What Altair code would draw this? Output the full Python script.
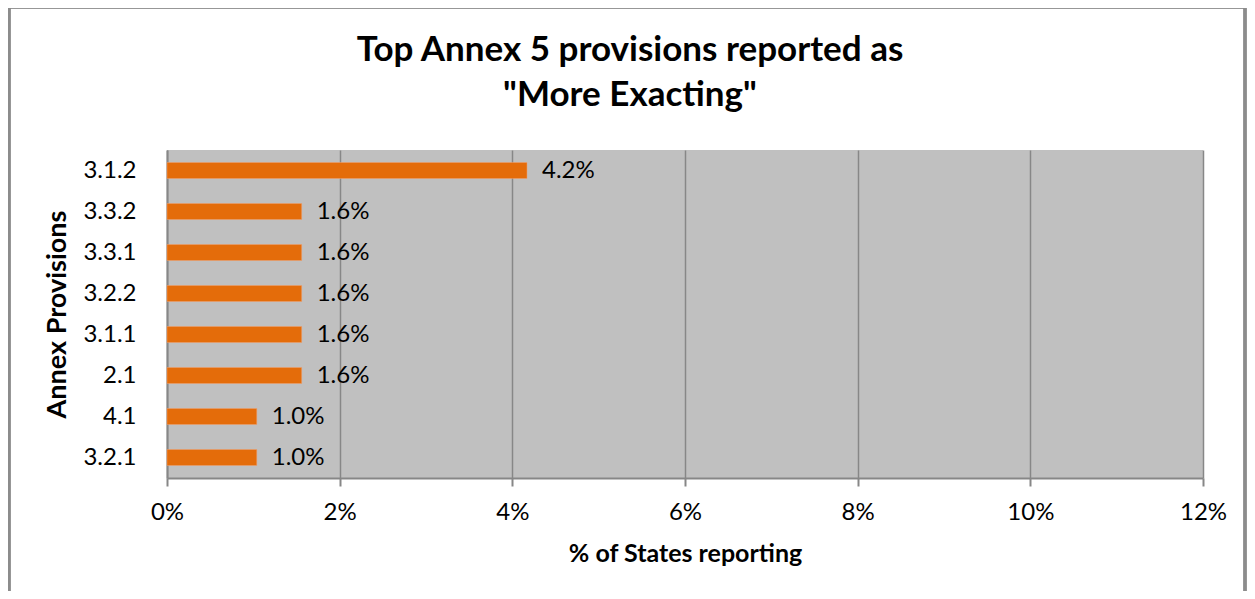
import altair as alt
import pandas as pd

provisions = ["3.1.2", "3.3.2", "3.3.1", "3.2.2", "3.1.1", "2.1", "4.1", "3.2.1"]
percent = [4.17, 1.56, 1.56, 1.56, 1.56, 1.56, 1.04, 1.04]
labels = ["4.2%", "1.6%", "1.6%", "1.6%", "1.6%", "1.6%", "1.0%", "1.0%"]
title_lines = ["Top Annex 5 provisions reported as", "\"More Exacting\""]

df = pd.DataFrame({"prov": provisions, "pct": percent, "lab": labels})
tdf = pd.DataFrame({"line": title_lines, "row": [0, 1]})

FONT = "Lato"
W, H = 1036, 328

y_enc = alt.Y("prov:N", sort=provisions,
              scale=alt.Scale(paddingInner=0.61, paddingOuter=0.305),
              axis=alt.Axis(title="Annex Provisions", titleFont=FONT, titleFontSize=27,
                            titleFontWeight="bold", titleColor="black", titlePadding=11,
                            labelFont=FONT, labelFontSize=24, labelColor="black",
                            labelPadding=31, ticks=False, domainColor="#878787",
                            domainWidth=2, grid=False))

x_enc = alt.X("pct:Q",
              scale=alt.Scale(domain=[0, 12], nice=False, zero=True),
              axis=alt.Axis(title="% of States reporting", titleFont=FONT, titleFontSize=25,
                            titleFontWeight="bold", titleColor="black", titlePadding=17,
                            values=[0, 2, 4, 6, 8, 10, 12],
                            labelExpr="datum.value + '%'", labelFlush=False,
                            labelFont=FONT, labelFontSize=24, labelColor="black",
                            labelPadding=14, tickSize=8, tickColor="#878787", tickWidth=2,
                            domainColor="#878787", domainWidth=2,
                            grid=True, gridColor="#878787", gridWidth=1.5))

bars = alt.Chart(df).mark_bar(color="#E46C0A", stroke="#F0A070", strokeWidth=0.5).encode(
    x=x_enc, y=y_enc)

text = alt.Chart(df).mark_text(align="left", baseline="middle", dx=15, font=FONT,
                               fontSize=24, color="black").encode(
    x="pct:Q", y=alt.Y("prov:N", sort=provisions), text="lab:N")

title_base = alt.Chart(tdf).mark_text(align="center", baseline="alphabetic", font=FONT,
                                      fontSize=35, fontWeight="bold", color="black")
title1 = title_base.transform_filter("datum.row == 0").encode(
    x=alt.value(463), y=alt.value(-89), text="line:N")
title2 = title_base.transform_filter("datum.row == 1").encode(
    x=alt.value(463), y=alt.value(-44), text="line:N")

border = alt.Chart(df).mark_rect(fill=None, stroke="#8C8C8C", strokeWidth=2.5).encode(
    x=alt.value(-158), x2=alt.value(1078), y=alt.value(-143), y2=alt.value(470))

chart = alt.layer(bars, text, title1, title2, border).properties(
    width=W, height=H,
    padding={"left": 159, "top": 142, "right": 44, "bottom": 113},
    autosize=alt.AutoSizeParams(type="none"),
).configure(background="white").configure_view(fill="#C0C0C0", stroke=None)

chart.save("out.html", embed_options={"renderer": "svg", "actions": False})
